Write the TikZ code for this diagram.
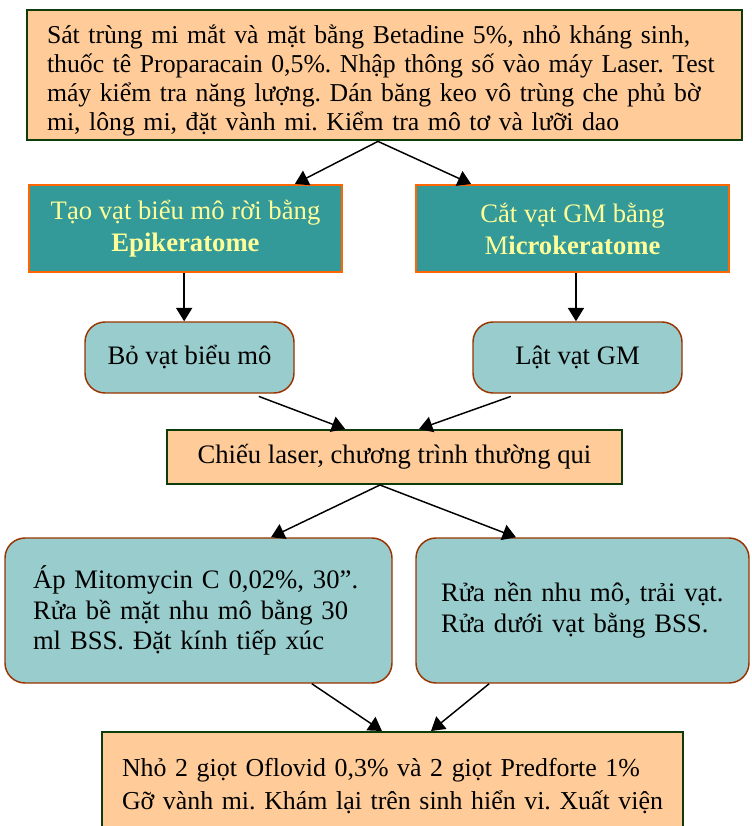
\documentclass[tikz,border=0pt]{standalone}
\usepackage{fontspec}
\setmainfont{Liberation Serif}
\usetikzlibrary{positioning, arrows.meta}

\definecolor{peach}{HTML}{FFCC99}
\definecolor{darkgreen}{HTML}{0F3A0A}
\definecolor{tealbox}{HTML}{339999}
\definecolor{orangeline}{HTML}{FF6600}
\definecolor{paleyellow}{HTML}{FFFF99}
\definecolor{paleteal}{HTML}{99CCCC}
\definecolor{brownline}{HTML}{993300}

\begin{document}
\frenchspacing
\begin{tikzpicture}[x=0.75pt,y=-0.75pt,
    stepbox/.style={draw=darkgreen,line width=1.5pt,fill=peach,rectangle,
        align=left,font=\fontsize{19.3pt}{21.75pt}\selectfont},
    cutbox/.style={draw=orangeline,line width=1.5pt,fill=tealbox,rectangle,
        align=center,text=paleyellow,minimum width=234.75pt,minimum height=65.25pt,
        font=\fontsize{20pt}{24pt}\selectfont},
    roundbox/.style={draw=brownline,line width=1.1pt,fill=paleteal,rounded corners=15pt,
        align=left,font=\fontsize{20pt}{23pt}\selectfont},
    flow/.style={line width=1.1pt,-{Triangle[length=10pt,width=12pt]}}]
    \useasboundingbox (0,0) rectangle (751,826);
    \clip (0,0) rectangle (751,826);

    % buoc chuan bi
    \node[stepbox,minimum width=536.25pt,minimum height=97.5pt,text width=506.25pt] (prep) at (384.5,75)
        {\rule{0pt}{22pt}Sát trùng mi mắt và mặt bằng Betadine 5\%, nhỏ kháng sinh,\\
         thuốc tê Proparacain 0,5\%. Nhập thông số vào máy Laser. Test\\
         máy kiểm tra năng lượng. Dán băng keo vô trùng che phủ bờ\\
         mi, lông mi, đặt vành mi. Kiểm tra mô tơ và lưỡi dao};

    % hai nhanh
    \node[cutbox] (epi) at (185.5,228.5) {Tạo vạt biểu mô rời bằng\\ \textbf{Epikeratome}};
    \node[cutbox] (micro) at (572.5,228.5) {Cắt vạt GM bằng\\ M\textbf{icrokeratome}};

    \node[roundbox,minimum width=156.75pt,minimum height=53.25pt] (bo) at (189.5,357.5) {Bỏ vạt biểu mô};
    \node[roundbox,minimum width=156.75pt,minimum height=53.25pt] (lat) at (577.5,357.5) {Lật vạt GM};

    \node[stepbox,minimum width=341.25pt,minimum height=40.5pt,align=center,
        font=\fontsize{20pt}{24pt}\selectfont] (laser) at (394.5,457)
        {Chiếu laser, chương trình thường qui};

    \node[roundbox,minimum width=290.25pt,minimum height=108.75pt,text width=248.25pt] (mito) at (198.5,610.5)
        {Áp Mitomycin C 0,02\%, 30”.\\ Rửa bề mặt nhu mô bằng 30\\ ml BSS. Đặt kính tiếp xúc};
    \node[roundbox,minimum width=249.75pt,minimum height=108.75pt,text width=212.25pt] (rua) at (582.5,610.5)
        {Rửa nền nhu mô, trải vạt.\\ Rửa dưới vạt bằng BSS.\\[2pt]};

    \node[stepbox,minimum width=435.75pt,minimum height=81pt,text width=405.75pt,
        font=\fontsize{19.4pt}{23pt}\selectfont] (final) at (392.5,786)
        {Nhỏ 2 giọt Oflovid 0,3\% và 2 giọt Predforte 1\%\\[2pt]
         Gỡ vành mi. Khám lại trên sinh hiển vi. Xuất viện};

    % mui ten
    \draw[flow] ([xshift=-4.9pt]prep.south) -- ([xshift=82pt]epi.north);
    \draw[flow] ([xshift=-4.9pt]prep.south) -- ([xshift=-76pt]micro.north);
    \draw[flow] ([xshift=-1pt]epi.south) -- ([xshift=-1pt]epi.south |- bo.north);
    \draw[flow] ([xshift=2.6pt]micro.south) -- ([xshift=2.6pt]micro.south |- lat.north);
    \draw[flow] ([xshift=52pt,yshift=-2pt]bo.south) -- ([xshift=-37pt]laser.north);
    \draw[flow] ([xshift=-50pt,yshift=-2pt]lat.south) -- ([xshift=18.4pt]laser.north);
    \draw[flow] ([xshift=-10.9pt]laser.south) -- ([xshift=54.4pt]mito.north);
    \draw[flow] ([xshift=-10.9pt]laser.south) -- ([xshift=-49.9pt]rua.north);
    \draw[flow] ([xshift=85pt]mito.south) -- ([xshift=-7.9pt]final.north);
    \draw[flow] ([xshift=-70pt]rua.south) -- ([xshift=28.9pt]final.north);
\end{tikzpicture}
\end{document}
